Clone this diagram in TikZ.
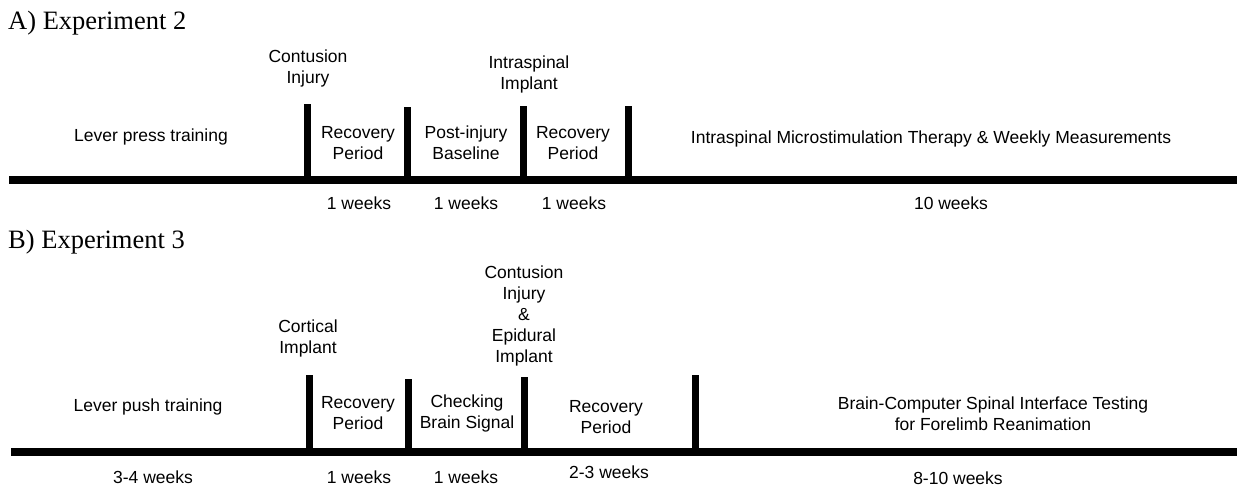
\documentclass[tikz,border=0pt]{standalone}
\usepackage{fontspec}
\setmainfont{Liberation Sans}
\newfontfamily\titlefont{Liberation Serif}
\begin{document}
\begin{tikzpicture}[x=1pt,y=-1pt,
  lbl/.style={font=\fontsize{17.5}{21}\selectfont, align=center, inner sep=0pt},
  ttl/.style={font=\titlefont\fontsize{26.5}{30}\selectfont, anchor=west, inner sep=0pt},
  axisline/.style={line width=8pt},
  tickbar/.style={line width=7pt}]
\useasboundingbox (0,0) rectangle (1237,487);

% ---------------- Panel A ----------------
\node[ttl] (tA) at (8,23) {A) Experiment 2};
\coordinate (aL) at (9,180);
\coordinate (aR) at (1237,180);
\draw[axisline] (aL) -- (aR);
\coordinate (a1t) at (307.5,104); \coordinate (a1b) at (307.5,180);
\coordinate (a2t) at (407,107);   \coordinate (a2b) at (407,180);
\coordinate (a3t) at (523,106);   \coordinate (a3b) at (523,180);
\coordinate (a4t) at (628,106);   \coordinate (a4b) at (628,180);
\draw[tickbar] (a1t) -- (a1b);
\draw[tickbar] (a2t) -- (a2b);
\draw[tickbar] (a3t) -- (a3b);
\draw[tickbar] (a4t) -- (a4b);

\node[lbl] (aev1) at (308,68) {Contusion\\Injury};
\node[lbl] (aev2) at (529,74) {Intraspinal\\Implant};
\node[lbl] (aph0) at (151,137) {Lever press training};
\node[lbl] (aph1) at (358,143) {Recovery\\Period};
\node[lbl] (aph2) at (466,143) {Post-injury\\Baseline};
\node[lbl] (aph3) at (573,143) {Recovery\\Period};
\node[lbl] (aph4) at (931,139) {Intraspinal Microstimulation Therapy \& Weekly Measurements};
\node[lbl] (adu1) at (359,203) {1 weeks};
\node[lbl] (adu2) at (466,203) {1 weeks};
\node[lbl] (adu3) at (574,203) {1 weeks};
\node[lbl] (adu4) at (951,203) {10 weeks};

% ---------------- Panel B ----------------
\node[ttl] (tB) at (8,242) {B) Experiment 3};
\coordinate (bL) at (11,452);
\coordinate (bR) at (1237,452);
\draw[axisline] (bL) -- (bR);
\coordinate (b1t) at (309,375); \coordinate (b1b) at (309,452);
\coordinate (b2t) at (408,379); \coordinate (b2b) at (408,452);
\coordinate (b3t) at (524,377); \coordinate (b3b) at (524,452);
\coordinate (b4t) at (695,375); \coordinate (b4b) at (695,452);
\draw[tickbar] (b1t) -- (b1b);
\draw[tickbar] (b2t) -- (b2b);
\draw[tickbar] (b3t) -- (b3b);
\draw[tickbar] (b4t) -- (b4b);

\node[lbl] (bev1) at (308,338) {Cortical\\Implant};
\node[lbl] (bev2) at (524,316) {Contusion\\Injury\\\&\\Epidural\\Implant};
\node[lbl] (bph0) at (148,407) {Lever push training};
\node[lbl] (bph1) at (358,413) {Recovery\\Period};
\node[lbl] (bph2) at (467,413) {Checking\\Brain Signal};
\node[lbl] (bph3) at (606,417) {Recovery\\Period};
\node[lbl] (bph4) at (993,414) {Brain-Computer Spinal Interface Testing\\for Forelimb Reanimation};
\node[lbl] (bdu0) at (153,477) {3-4 weeks};
\node[lbl] (bdu1) at (359,477) {1 weeks};
\node[lbl] (bdu2) at (466,477) {1 weeks};
\node[lbl] (bdu3) at (609,472) {2-3 weeks};
\node[lbl] (bdu4) at (958,478) {8-10 weeks};
\end{tikzpicture}
\end{document}
